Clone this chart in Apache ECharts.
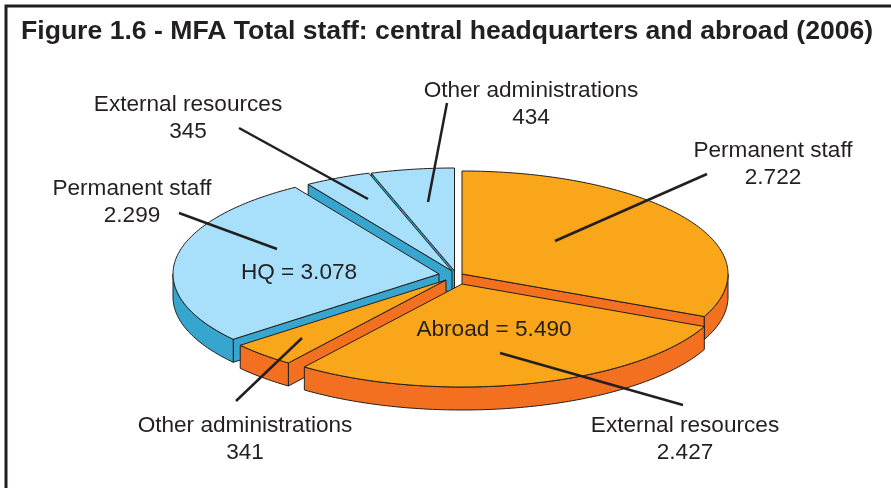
<!DOCTYPE html>
<html>
<head>
<meta charset="utf-8">
<style>
html, body { margin: 0; padding: 0; background: #fff; }
#main { width: 891px; height: 488px; }
</style>
<script src="https://cdn.jsdelivr.net/npm/echarts@6/dist/echarts.min.js"></script>
</head>
<body>
<div id="main"></div>
<script>
// slices run clockwise from 12 o'clock
var sliceGroups = ['Abroad', 'Abroad', 'Abroad', 'HQ', 'HQ', 'HQ'];
var sliceNames = ['Permanent staff', 'External resources', 'Other administrations',
    'Permanent staff', 'External resources', 'Other administrations'];
var sliceValues = [2722, 2427, 341, 2299, 345, 434];

// layout of the drawing, kept apart from the data
var RX = 266, RY = 103, DEPTH = 23;
var sliceCenters = [[462, 274], [462, 284], [446, 280], [439, 274], [452, 271], [454.5, 271]];
var drawOrder = [5, 4, 3, 0, 2, 1];   // back to front
var labelPos = [[773, 151], [685, 426], [245, 426], [132, 189], [188, 105], [531, 91]];
var leaders = [
    [[707, 174], [555, 241]],
    [[683, 405], [500, 353]],
    [[236, 401], [302, 338]],
    [[179, 213], [277, 249]],
    [[239, 128], [368, 199]],
    [[447, 103], [428, 202]]
];
var groupPos = {Abroad: [494, 330], HQ: [299, 273]};
var colors = {
    Abroad: {top: '#FAA61A', side: '#F37021'},
    HQ: {top: '#A8E0FB', side: '#37A6CF'}
};
var INK = '#231F20';
var FONT = '"Liberation Sans", Arial, sans-serif';

// 2722 -> 2.722
function fmt(v) {
    return String(v).replace(/\B(?=(\d{3})+$)/g, '.');
}

var total = sliceValues.reduce(function (a, b) { return a + b; }, 0);
var startAngles = [];
var acc = 0;
for (var i = 0; i < sliceValues.length; i++) {
    startAngles.push(acc / total * 360);
    acc += sliceValues[i];
}

function pt(c, deg, drop) {
    var r = deg * Math.PI / 180;
    return [c[0] + RX * Math.sin(r), c[1] - RY * Math.cos(r) + (drop || 0)];
}

function arc(c, a, b, drop) {
    var pts = [];
    var n = Math.max(2, Math.ceil((b - a) / 1));
    for (var k = 0; k <= n; k++) {
        pts.push(pt(c, a + (b - a) * k / n, drop));
    }
    return pts;
}

function poly(points, fill) {
    return {
        type: 'polygon',
        shape: {points: points},
        style: {fill: fill, stroke: INK, lineWidth: 1, lineJoin: 'round'}
    };
}

function radialWall(c, deg, fill) {
    return poly([[c[0], c[1]], pt(c, deg), pt(c, deg, DEPTH), [c[0], c[1] + DEPTH]], fill);
}

function renderSlice(params, api) {
    var idx = api.value(0);
    var a = api.value(1);
    var b = api.value(2);
    var c = sliceCenters[idx];
    var col = colors[sliceGroups[idx]];
    var children = [];
    // only the walls that face the viewer
    if (Math.sin(a * Math.PI / 180) < -1e-6) {
        children.push(radialWall(c, a, col.side));
    }
    if (Math.sin(b * Math.PI / 180) > 1e-6) {
        children.push(radialWall(c, b, col.side));
    }
    var from = Math.max(a, 90);
    var to = Math.min(b, 270);
    if (to > from) {
        children.push(poly(arc(c, from, to).concat(arc(c, from, to, DEPTH).reverse()), col.side));
    }
    children.push(poly([[c[0], c[1]]].concat(arc(c, a, b)), col.top));
    return {type: 'group', children: children};
}

var sliceData = drawOrder.map(function (i) {
    return [i, startAngles[i], startAngles[i] + sliceValues[i] / total * 360];
});

var graphics = [
    // frame, open at the right and bottom
    {type: 'polyline', shape: {points: [[6, 488], [6, 6], [891, 6]]},
        style: {stroke: INK, fill: null, lineWidth: 3}}
];
leaders.forEach(function (l) {
    graphics.push({
        type: 'line', z: 20,
        shape: {x1: l[0][0], y1: l[0][1], x2: l[1][0], y2: l[1][1]},
        style: {stroke: INK, lineWidth: 2.5}
    });
});
function addText(str, x, y) {
    graphics.push({
        type: 'text', z: 21, x: x, y: y,
        style: {text: str, fill: INK, font: '22.6px ' + FONT, textAlign: 'center', textVerticalAlign: 'middle'}
    });
}
sliceNames.forEach(function (name, i) {
    addText(name, labelPos[i][0], labelPos[i][1]);
    addText(fmt(sliceValues[i]), labelPos[i][0], labelPos[i][1] + 27);
});
Object.keys(groupPos).forEach(function (g) {
    var sum = 0;
    sliceValues.forEach(function (v, i) { if (sliceGroups[i] === g) { sum += v; } });
    addText(g + ' = ' + fmt(sum), groupPos[g][0], groupPos[g][1]);
});

var myChart = echarts.init(document.getElementById('main'), null, {renderer: 'canvas'});
var option = {
    animation: false,
    backgroundColor: '#fff',
    title: {
        text: 'Figure 1.6 - MFA Total staff: central headquarters and abroad (2006)',
        left: 21,
        top: 18,
        padding: 0,
        textStyle: {fontFamily: FONT, fontWeight: 'bold', fontSize: 26.6, color: INK}
    },
    series: [{
        type: 'custom',
        coordinateSystem: 'none',
        silent: true,
        renderItem: renderSlice,
        data: sliceData
    }],
    graphic: graphics
};
myChart.setOption(option);
</script>
</body>
</html>
